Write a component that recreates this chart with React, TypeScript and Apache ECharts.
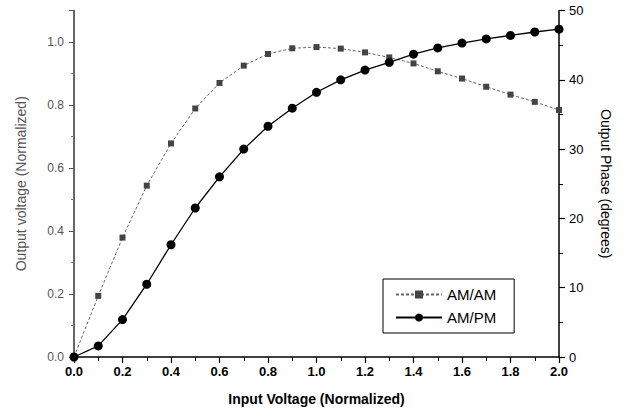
import React, { useEffect, useRef } from "react";
import * as echarts from "echarts";

const inputVoltage = [0.0, 0.1, 0.2, 0.3, 0.4, 0.5, 0.6, 0.7, 0.8, 0.9, 1.0, 1.1, 1.2, 1.3, 1.4, 1.5, 1.6, 1.7, 1.8, 1.9, 2.0];
const amam = [0.0, 0.194, 0.379, 0.544, 0.678, 0.789, 0.870, 0.925, 0.962, 0.980, 0.984, 0.979, 0.967, 0.951, 0.932, 0.907, 0.884, 0.858, 0.833, 0.810, 0.784];
const ampm = [0.0, 1.6, 5.4, 10.5, 16.2, 21.5, 26.0, 30.0, 33.3, 35.9, 38.2, 40.0, 41.4, 42.5, 43.7, 44.6, 45.3, 45.9, 46.4, 46.9, 47.3];
const seriesNames = ["AM/AM", "AM/PM"];
const xTitle = "Input Voltage (Normalized)";
const yLeftTitle = "Output voltage (Normalized)";
const yRightTitle = "Output Phase (degrees)";

export default function App() {
  const ref = useRef<HTMLDivElement>(null);
  useEffect(() => {
    if (!ref.current) return;
    const chart = echarts.init(ref.current, undefined, { renderer: "svg" });
    const font = "Liberation Sans, Arial, sans-serif";
    chart.setOption({
      animation: false,
      backgroundColor: "#fff",
      grid: { left: 74, right: 71, top: 10.5, bottom: 61 },
      legend: {
        orient: "vertical",
        left: 383,
        top: 279,
        backgroundColor: "#fff",
        borderColor: "#000",
        borderWidth: 1,
        borderRadius: 0,
        padding: [8, 18, 8, 12],
        itemWidth: 46,
        itemHeight: 10,
        itemGap: 8,
        textStyle: { fontFamily: font, fontSize: 15, color: "#000" },
        data: seriesNames,
      },
      xAxis: {
        type: "value",
        min: 0,
        max: 2,
        interval: 0.2,
        name: xTitle,
        nameLocation: "middle",
        nameGap: 35,
        nameTextStyle: { fontFamily: font, fontSize: 14, fontWeight: "bold", color: "#000" },
        axisLine: { show: true, onZero: false, lineStyle: { color: "#000", width: 1.5 } },
        axisTick: { show: true, inside: false, length: 6, lineStyle: { color: "#000", width: 1.2 } },
        minorTick: { show: true, splitNumber: 2, length: 4, lineStyle: { color: "#000", width: 1 } },
        splitLine: { show: false },
        axisLabel: {
          fontFamily: font,
          fontSize: 13,
          fontWeight: "bold",
          color: "#000",
          margin: 8,
          formatter: (v: number) => v.toFixed(1),
        },
      },
      yAxis: [
        {
          type: "value",
          min: 0,
          max: 1.1,
          interval: 0.2,
          position: "left",
          name: yLeftTitle,
          nameLocation: "middle",
          nameGap: 46,
          nameTextStyle: { fontFamily: font, fontSize: 14, color: "#555" },
          axisLine: { show: true, onZero: false, lineStyle: { color: "#333", width: 1.5 } },
          axisTick: { show: true, length: 5, lineStyle: { color: "#555", width: 1 } },
          minorTick: { show: true, splitNumber: 2, length: 3, lineStyle: { color: "#777", width: 1 } },
          splitLine: { show: false },
          axisLabel: {
            fontFamily: font,
            fontSize: 12,
            color: "#555",
            margin: 10,
            formatter: (v: number) => (v > 1.05 ? "" : v.toFixed(1)),
          },
        },
        {
          type: "value",
          min: 0,
          max: 50,
          interval: 10,
          position: "right",
          name: yRightTitle,
          nameLocation: "middle",
          nameRotate: -90,
          nameGap: 40,
          nameTextStyle: { fontFamily: font, fontSize: 14, color: "#000" },
          axisLine: { show: true, onZero: false, lineStyle: { color: "#000", width: 1.5 } },
          axisTick: { show: true, length: 6, lineStyle: { color: "#000", width: 1.2 } },
          minorTick: { show: true, splitNumber: 2, length: 4, lineStyle: { color: "#000", width: 1 } },
          splitLine: { show: false },
          axisLabel: { fontFamily: font, fontSize: 13, color: "#000", margin: 10 },
        },
      ],
      series: [
        {
          name: seriesNames[0],
          type: "line",
          yAxisIndex: 0,
          data: inputVoltage.map((x, i) => [x, amam[i]]),
          symbol: "rect",
          symbolSize: 6,
          itemStyle: { color: "#444" },
          lineStyle: { color: "#666", width: 1, type: [3, 2] },
          z: 2,
        },
        {
          name: seriesNames[1],
          type: "line",
          yAxisIndex: 1,
          data: inputVoltage.map((x, i) => [x, ampm[i]]),
          symbol: "circle",
          symbolSize: 9,
          itemStyle: { color: "#000" },
          lineStyle: { color: "#000", width: 1.3 },
          z: 3,
        },
      ],
    });
    return () => chart.dispose();
  }, []);
  return (
    <div
      ref={ref}
      style={{ position: "absolute", left: 0, top: 0, width: 630, height: 418 }}
    />
  );
}
